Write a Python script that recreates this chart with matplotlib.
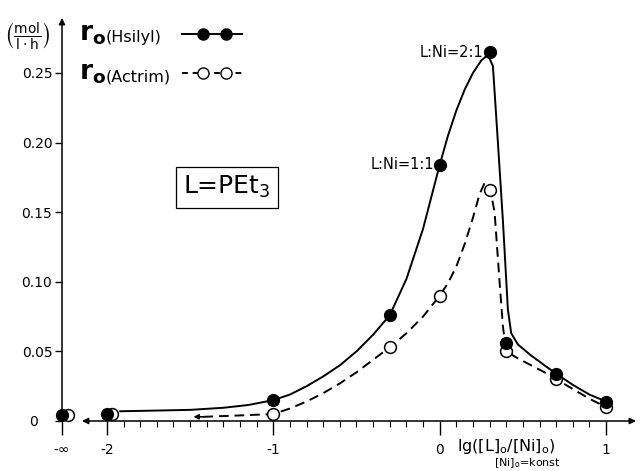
"""Initial rate vs. lg([L]o/[Ni]o) for L = PEt3."""

import matplotlib.pyplot as plt
import numpy as np

plt.rcParams["font.family"] = ["DejaVu Sans"]
plt.rcParams["mathtext.fontset"] = "dejavusans"

NEG_INF = -2.27  # where "-oo" sits on the lg axis

# measured points (lg ratio, rate)
hsilyl_x = [NEG_INF, -2.0, -1.0, -0.30, 0.0, 0.30, 0.40, 0.70, 1.0]
hsilyl_y = [0.004, 0.005, 0.015, 0.076, 0.184, 0.265, 0.056, 0.034, 0.014]
actrim_x = [NEG_INF + 0.035, -1.97, -1.0, -0.30, 0.0, 0.30, 0.40, 0.70, 1.0]
actrim_y = [0.004, 0.005, 0.005, 0.053, 0.090, 0.166, 0.050, 0.030, 0.010]

# hand-drawn guide curves
solid_x = [-1.92, -1.7, -1.5, -1.3, -1.15, -1.0, -0.9, -0.8, -0.7, -0.6,
           -0.5, -0.4, -0.3, -0.2, -0.1, 0.0, 0.05, 0.1, 0.15, 0.2, 0.25,
           0.29, 0.32, 0.35, 0.38, 0.41, 0.43, 0.47, 0.55, 0.63, 0.7, 0.8,
           0.9, 1.0]
solid_y = [0.007, 0.0075, 0.008, 0.0095, 0.0115, 0.015, 0.019, 0.025, 0.032,
           0.040, 0.050, 0.062, 0.076, 0.102, 0.138, 0.184, 0.205, 0.223,
           0.238, 0.250, 0.259, 0.263, 0.255, 0.200, 0.144, 0.080, 0.063,
           0.055, 0.047, 0.040, 0.034, 0.026, 0.019, 0.014]
dashed_x = [-1.42, -1.2, -1.0, -0.9, -0.8, -0.7, -0.6, -0.5, -0.4, -0.3,
            -0.2, -0.1, 0.0, 0.05, 0.1, 0.15, 0.2, 0.24, 0.27, 0.30, 0.33,
            0.36, 0.38, 0.40, 0.47, 0.55, 0.63, 0.7, 0.8, 0.9, 1.0]
dashed_y = [0.003, 0.004, 0.005, 0.009, 0.014, 0.020, 0.027, 0.035, 0.044,
            0.053, 0.063, 0.075, 0.090, 0.099, 0.111, 0.127, 0.146, 0.163,
            0.171, 0.169, 0.150, 0.100, 0.068, 0.050, 0.045, 0.040, 0.035,
            0.030, 0.023, 0.016, 0.010]

y_ticks = [0, 0.05, 0.10, 0.15, 0.20, 0.25]
y_labels = ["0   ", "0.05", "0.10", "0.15", "0.20", "0.25"]
x_ticks = [NEG_INF, -2, -1, 0, 1]
x_labels = ["-\u221e", "-2", "-1", "0", "1"]
series_names = ["Hsilyl", "Actrim"]

W, H = 642, 471
Y_TOP = 0.2895
X_RIGHT = 1.18
fig = plt.figure(figsize=(W / 100, H / 100), dpi=100)
ax = fig.add_axes([62 / W, 50 / H, (636 - 62) / W, (421 - 18) / H])
ax.set_xlim(NEG_INF, X_RIGHT)
ax.set_ylim(0, Y_TOP)
for side in ax.spines.values():
    side.set_visible(False)

ax.set_yticks(y_ticks, y_labels)
ax.set_xticks(x_ticks, x_labels)
ax.set_xticks(np.arange(-1.9, 1.0, 0.1), minor=True)
ax.tick_params(axis="y", direction="out", length=5, width=1, labelsize=10, pad=2)
ax.tick_params(axis="x", which="major", direction="out", length=10, width=1,
               labelsize=10, pad=6)
ax.tick_params(axis="x", which="minor", direction="out", length=4, width=0.8)

# axis lines with arrows
arrow = dict(arrowstyle="-|>", color="black", lw=1.1, mutation_scale=9,
             shrinkA=0, shrinkB=0)
ax.annotate("", xy=(NEG_INF, Y_TOP), xytext=(NEG_INF, 0), arrowprops=arrow,
            annotation_clip=False)
ax.annotate("", xy=(X_RIGHT, 0), xytext=(-2.0, 0), arrowprops=arrow,
            annotation_clip=False)
ax.annotate("", xy=(-2.15, 0), xytext=(-2.0, 0), arrowprops=arrow,
            annotation_clip=False)

ax.plot(solid_x, solid_y, color="black", lw=1.4, zorder=2)
ax.plot(dashed_x, dashed_y, color="black", lw=1.4, ls=(0, (5, 3)), zorder=2)
ax.annotate("", xy=(dashed_x[0] - 0.06, dashed_y[0]),
            xytext=(dashed_x[0], dashed_y[0]),
            arrowprops=dict(arrowstyle="-|>", color="black", lw=1.2,
                            mutation_scale=7, shrinkA=0, shrinkB=0))
ax.plot(actrim_x, actrim_y, ls="none", marker="o", ms=8.5, mfc="white",
        mec="black", mew=1.1, zorder=3, clip_on=False)
ax.plot(hsilyl_x, hsilyl_y, ls="none", marker="o", ms=8.5, color="black",
        zorder=4, clip_on=False)

ax.text(0.26, 0.265, "L:Ni=2:1", ha="right", va="center", fontsize=10.5)
ax.text(-0.03, 0.184, "L:Ni=1:1", ha="right", va="center", fontsize=10.5)
ax.text(-1.277, 0.168, "L=PEt$_3$", ha="center", va="center", fontsize=18,
        bbox=dict(boxstyle="square,pad=0.3", fc="white", ec="black", lw=0.9))

# axis labels
fig.text(27 / W, 1 - 37 / H,
         r"$\left(\frac{\mathrm{mol}}{\mathrm{l\cdot h}}\right)$",
         ha="center", va="center", fontsize=14)
fig.text(457 / W, 1 - 447 / H, r"lg([L]$_\mathrm{o}$/[Ni]$_\mathrm{o}$)",
         ha="left", va="center", fontsize=11.5)
fig.text(527 / W, 1 - 463 / H, r"[Ni]$_\mathrm{o}$=konst", ha="center",
         va="center", fontsize=8)

# legend drawn by hand in figure pixels
for name, ypx, face in zip(series_names, [34, 73], ["black", "white"]):
    yy = 1 - ypx / H
    fig.text(79 / W, yy, r"$\mathbf{r}_\mathbf{o}$", fontsize=19,
             ha="left", va="center")
    fig.text(106 / W, yy - 0.008, f"({name})", fontsize=11.5, ha="left",
             va="center")
    ls = "-" if face == "black" else (0, (3, 2.5))
    fig.add_artist(plt.Line2D([182 / W, 242 / W], [yy, yy], color="black",
                              lw=1.4, ls=ls))
    fig.add_artist(plt.Line2D([203 / W, 226 / W], [yy, yy], ls="none",
                              marker="o", ms=8, mfc=face, mec="black",
                              mew=1.0))

fig.savefig("out.png", dpi=100)
